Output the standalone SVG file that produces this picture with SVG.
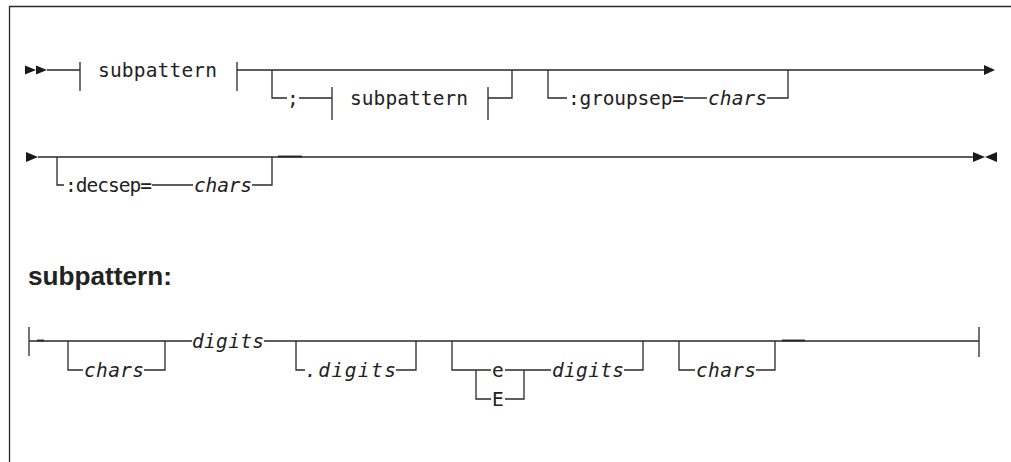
<svg xmlns="http://www.w3.org/2000/svg" width="1011" height="462" viewBox="0 0 1011 462">
<style>
.ln{fill:none;stroke:#2a2a2a;stroke-width:1.3}
.dash{fill:none;stroke:#2a2a2a;stroke-width:1.9}
.ah{fill:#1a1a1a;stroke:none}
.kw{font-family:"DejaVu Sans Mono","Liberation Mono",monospace;font-size:19.5px;fill:#222}
.var{font-family:"DejaVu Sans Mono","Liberation Mono",monospace;font-size:19.5px;font-style:italic;fill:#222}
.hd{font-family:"Liberation Sans",Arial,sans-serif;font-size:25px;font-weight:bold;fill:#222}
</style>
<rect width="1011" height="462" fill="#fff"/>
<path class="ln" d="M9.5,462 V6.5 H1011"/>

<g id="connectors">
  <!-- line 1 -->
  <polygon class="ah" points="25,65.5 36,70 25,74.5"/>
  <polygon class="ah" points="36,65.5 47,70 36,74.5"/>
  <path class="ln" d="M47,70 H80 M80,62 V91 M237,62 V91 M237,70 H986"/>
  <polygon class="ah" points="984,65 995,70 984,75"/>
  <path class="ln" d="M272,70 V98 H287 M299,98 H332 M332,87 V120 M488,87 V120 M488,98 H512 V70"/>
  <path class="ln" d="M548,70 V98 H567 M684,98 H707 M767,98 H788 V70"/>
  <!-- line 2 -->
  <polygon class="ah" points="26,152 38,157 26,162"/>
  <path class="ln" d="M38,157 H973"/>
  <path class="ln" d="M57,157 V185 H64 M152,185 H193 M252,185 H272 V157"/>
  <path class="dash" d="M278,156.5 H302"/>
  <polygon class="ah" points="973,152 985,157 973,162"/>
  <polygon class="ah" points="997,152 985,157 997,162"/>
  <!-- subpattern -->
  <path class="ln" d="M29,327 V356 M29,341 H192 M264,341 H979 M979,327 V357"/>
  <path class="dash" d="M37,340.5 H44"/>
  <path class="ln" d="M68,341 V370 H83 M144,370 H165 V341"/>
  <path class="ln" d="M296,341 V370 H305 M396,370 H416 V341"/>
  <path class="ln" d="M452,341 V370 H491 M505,370 H551 M624,370 H643 V341 M476,370 V399 H491 M505,399 H524 V370"/>
  <path class="ln" d="M679,341 V370 H695 M756,370 H775 V341"/>
  <path class="dash" d="M782,340.5 H805"/>
</g>

<g id="n_subpattern1"><text class="kw" x="98" y="77" textLength="119" lengthAdjust="spacing">subpattern</text></g>
<g id="n_semicolon"><text class="kw" x="287" y="105" textLength="12" lengthAdjust="spacing">;</text></g>
<g id="n_subpattern2"><text class="kw" x="350" y="105" textLength="118" lengthAdjust="spacing">subpattern</text></g>
<g id="n_groupsep"><text class="kw" x="568" y="105" textLength="116" lengthAdjust="spacing">:groupsep=</text></g>
<g id="n_chars1"><text class="var" x="708" y="105" textLength="59" lengthAdjust="spacing">chars</text></g>
<g id="n_decsep"><text class="kw" x="65" y="192" textLength="87" lengthAdjust="spacing">:decsep=</text></g>
<g id="n_chars2"><text class="var" x="194" y="192" textLength="58" lengthAdjust="spacing">chars</text></g>
<g id="n_heading"><text class="hd" x="28" y="285" textLength="144" lengthAdjust="spacingAndGlyphs">subpattern:</text></g>
<g id="n_chars3"><text class="var" x="84" y="377" textLength="60" lengthAdjust="spacing">chars</text></g>
<g id="n_digits1"><text class="var" x="192" y="348" textLength="72" lengthAdjust="spacing">digits</text></g>
<g id="n_digits2"><text class="var" x="305" y="377" textLength="91" lengthAdjust="spacing">.digits</text></g>
<g id="n_e"><text class="kw" x="492" y="377" textLength="12" lengthAdjust="spacing">e</text></g>
<g id="n_E"><text class="kw" x="492" y="406" textLength="12" lengthAdjust="spacing">E</text></g>
<g id="n_digits3"><text class="var" x="552" y="377" textLength="72" lengthAdjust="spacing">digits</text></g>
<g id="n_chars4"><text class="var" x="696" y="377" textLength="60" lengthAdjust="spacing">chars</text></g>
</svg>
